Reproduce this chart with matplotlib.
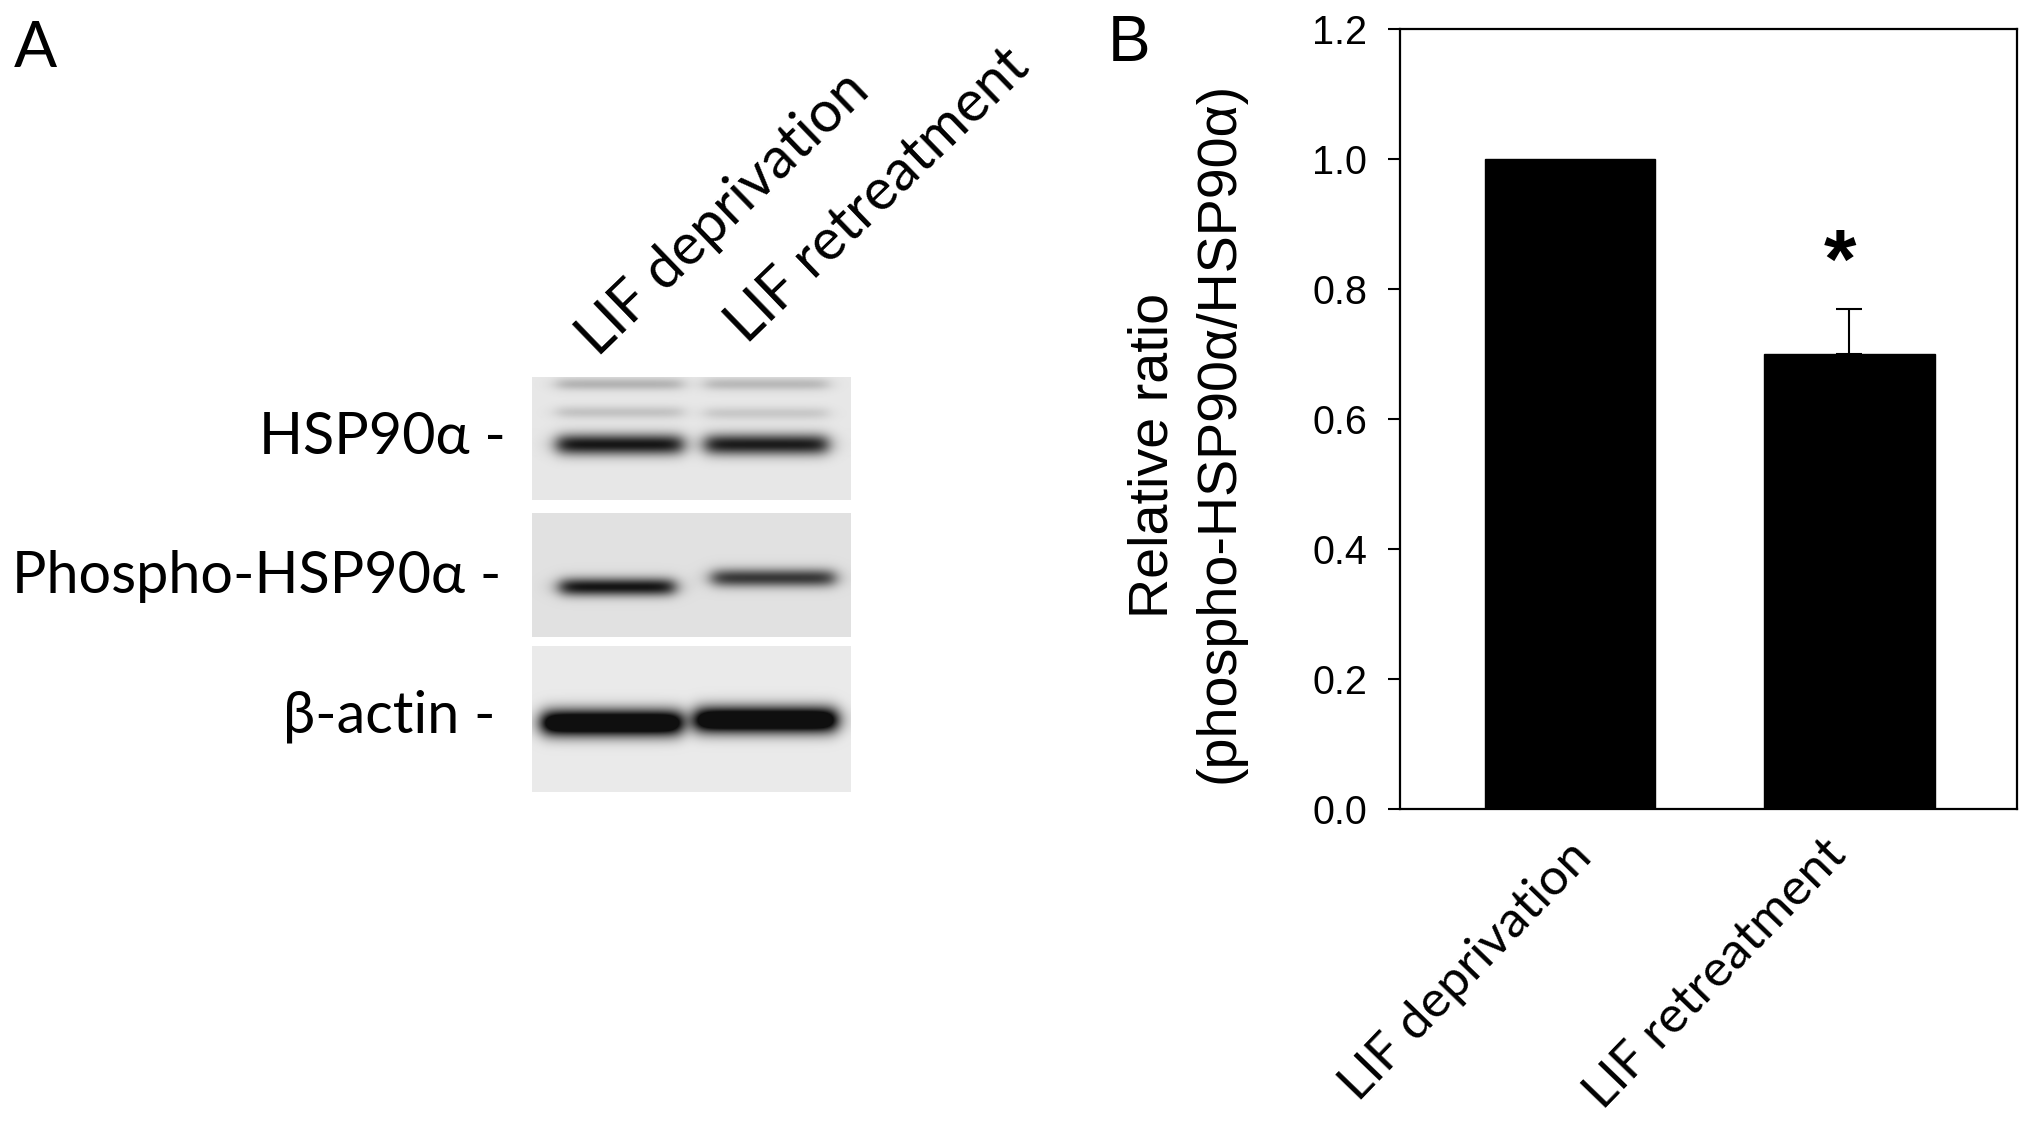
import numpy as np
import matplotlib
matplotlib.use("Agg")
import matplotlib.pyplot as plt
from matplotlib import transforms

# ---------------- data ----------------
groups = ["LIF deprivation", "LIF retreatment"]
ratio_mean = [1.00, 0.70]
ratio_err_upper = [0.00, 0.07]
significance = ["", "*"]
yticks = [0.0, 0.2, 0.4, 0.6, 0.8, 1.0, 1.2]

blot_rows = ["HSP90\u03b1 -", "Phospho-HSP90\u03b1 -", "\u03b2-actin -"]
lane_labels = ["LIF deprivation", "LIF retreatment"]
# relative band darkness per lane
hsp90_main = [0.82, 0.80]
hsp90_upper_a = [0.20, 0.18]
hsp90_upper_b = [0.14, 0.12]
phospho_band = [0.80, 0.66]
actin_band = [1.25, 1.25]

# ---------------- figure ----------------
W, H = 2031, 1122
DPI = 100
fig = plt.figure(figsize=(W / DPI, H / DPI), dpi=DPI)
renderer = fig.canvas.get_renderer()

ARIAL = ["Liberation Sans", "DejaVu Sans"]
CALIBRI = ["Lato", "Open Sans", "DejaVu Sans"]


def fit_size(text, family, target_px):
    t = fig.text(0, 0, text, fontsize=40, family=family)
    w = t.get_window_extent(renderer).width
    t.remove()
    return 40 * target_px / w


def fx(px):
    return px / W


def fy(py):
    return 1 - py / H


# ---------------- panel B: bar chart ----------------
ax_l, ax_r, ax_t, ax_b = 1400, 2017, 29, 809
ax = fig.add_axes([fx(ax_l), fy(ax_b), (ax_r - ax_l) / W, (ax_b - ax_t) / H])
x = np.arange(len(groups))
ax.bar(x, ratio_mean, width=0.61, color="black", edgecolor="black", linewidth=1)
for xi, m, e in zip(x, ratio_mean, ratio_err_upper):
    if e > 0:
        ax.errorbar(xi, m, yerr=[[0], [e]], fmt="none", ecolor="black",
                    elinewidth=1.5, capsize=9.4, capthick=1.5)
for xi, m, e, s in zip(x, ratio_mean, ratio_err_upper, significance):
    if s:
        ax.text(xi - 0.035, m + e + 0.005, s, ha="center", va="bottom",
                fontsize=60, fontweight="bold", family=ARIAL, color="black")
ax.set_xlim(-0.61, 1.6)
ax.set_ylim(0, 1.2)
ax.set_yticks(yticks)
ax.set_yticklabels([f"{v:.1f}" for v in yticks], family=ARIAL, fontsize=28.5)
ax.tick_params(axis="y", direction="out", length=8.6, width=1.5, pad=15)
ax.tick_params(axis="x", length=0, labelbottom=False)
for sp in ax.spines.values():
    sp.set_linewidth(1.6)

# rotated category labels
xt_size = fit_size(groups[0], CALIBRI, 338)
xt_offsets = [(-104, -162), (-134, -165)]  # pixels from tick / axis bottom
for xi, g, (dx, dy) in zip(x, groups, xt_offsets):
    tr = transforms.blended_transform_factory(ax.transData, ax.transAxes) + \
        transforms.ScaledTranslation(dx / DPI, dy / DPI, fig.dpi_scale_trans)
    ax.text(xi, 0, g, transform=tr, rotation=46, rotation_mode="anchor",
            ha="center", va="center", fontsize=xt_size, family=CALIBRI)

# y label (two separately centred lines)
yl2 = "(phospho-HSP90\u03b1/HSP90\u03b1)"
yl_size = fit_size(yl2, ARIAL, 700)
fig.text(fx(1153), fy(455), "Relative ratio", rotation=90, ha="center",
         va="center", fontsize=yl_size, family=ARIAL)
fig.text(fx(1220), fy(432), yl2, rotation=90, ha="center", va="center",
         fontsize=yl_size, family=ARIAL)

fig.text(fx(1108), fy(14), "B", ha="left", va="top", fontsize=46, family=ARIAL)
fig.text(fx(14), fy(20), "A", ha="left", va="top", fontsize=46, family=CALIBRI)

# ---------------- panel A: blot ----------------
bx0, bx1, by0, by1 = 532, 851, 377, 792
axb = fig.add_axes([fx(bx0), fy(by1), (bx1 - bx0) / W, (by1 - by0) / H])
axb.set_axis_off()

# strip geometry: (top, bottom, background)
strips = [(377, 500, 0.905), (513, 637, 0.88), (646, 792, 0.92)]
# bands: (strip index, darkness list, centre y per lane, sigma, lane spans)
bands = [
    (0, hsp90_upper_a, [385, 385], 4.5, [(557, 683), (705, 828)]),
    (0, hsp90_upper_b, [413, 414], 4.5, [(557, 683), (705, 828)]),
    (0, hsp90_main, [445, 445], 7.5, [(557, 683), (705, 828)]),
    (1, phospho_band, [587, 578], 6.5, [(560, 675), (712, 835)]),
    (2, actin_band, [723, 720], 9.5, [(542, 682), (695, 837)]),
]


def sig(z):
    return 1 / (1 + np.exp(-z))


for si, (t, b, bg) in enumerate(strips):
    ys = np.arange(t, b) + 0.5
    xs = np.arange(bx0, bx1) + 0.5
    XX, YY = np.meshgrid(xs, ys)
    img = np.full(XX.shape, bg)
    for (s, dark, ycs, sg, spans) in bands:
        if s != si:
            continue
        for d, yc, (l0, l1) in zip(dark, ycs, spans):
            prof = np.exp(-0.5 * ((YY - yc) / sg) ** 2)
            box = sig((XX - l0) / 5) * sig((l1 - XX) / 5)
            img = img - d * prof * box
    img = np.clip(img, 0.06, 1)
    axb.imshow(img, cmap="gray", vmin=0, vmax=1, extent=(bx0, bx1, b, t),
               origin="upper", aspect="auto", interpolation="bilinear")
axb.set_xlim(bx0, bx1)
axb.set_ylim(by1, by0)

# row labels
row_size = fit_size(blot_rows[1], CALIBRI, 490)
row_pos = [(506, 438), (501, 576), (496, 716)]
for lab, (px, py) in zip(blot_rows, row_pos):
    fig.text(fx(px), fy(py), lab, ha="right", va="center", fontsize=row_size,
             family=CALIBRI)

# lane labels
lane_size = fit_size(lane_labels[0], CALIBRI, 380)
lane_pos = [(723, 214), (878, 196)]
for lab, (px, py) in zip(lane_labels, lane_pos):
    fig.text(fx(px), fy(py), lab, rotation=44, rotation_mode="anchor",
             ha="center", va="center", fontsize=lane_size, family=CALIBRI)

fig.savefig("out.png", dpi=DPI, facecolor="white")
